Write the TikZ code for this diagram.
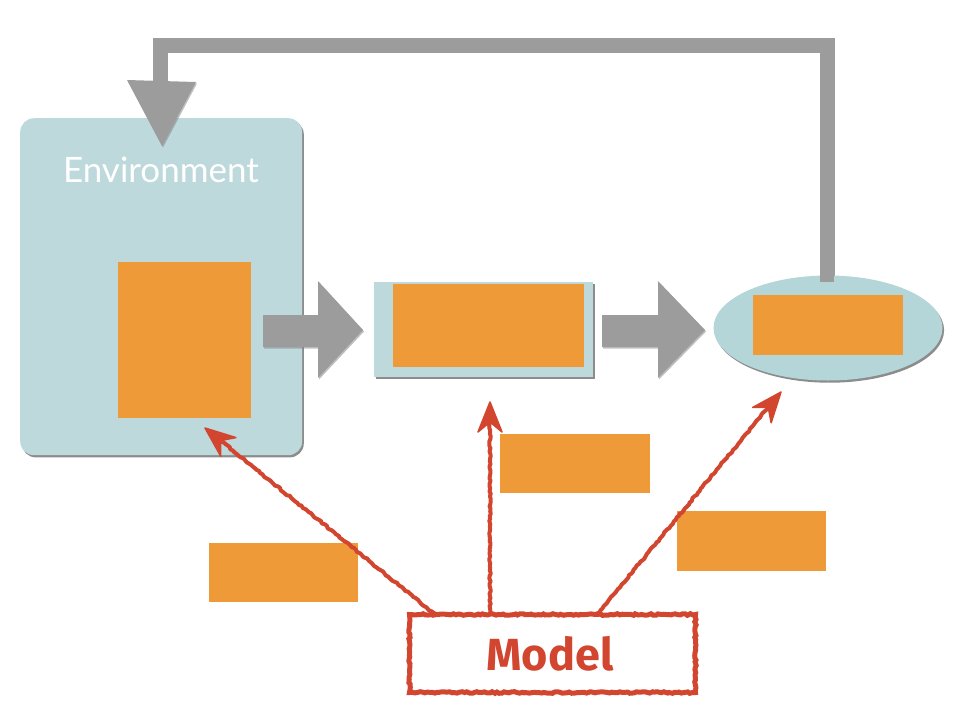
\documentclass[tikz,border=0pt]{standalone}
\usepackage{fontspec}
\setmainfont{Lato}
\newfontfamily\modelfont{Fira Sans}
\usetikzlibrary{calc,shadows,shapes.geometric,decorations.pathmorphing,arrows.meta}
\definecolor{envblue}{HTML}{BDD9DC}
\definecolor{ellblue}{HTML}{B5D6D8}
\definecolor{boxorange}{HTML}{EF9A38}
\definecolor{arrowgray}{HTML}{9C9C9C}
\definecolor{sketchred}{HTML}{D2452F}
\tikzset{
  softshadow/.style={drop shadow={shadow xshift=1.6pt, shadow yshift=-2.2pt, fill=black!60, opacity=0.75}},
  envbox/.style={fill=envblue, rounded corners=14pt, inner sep=0, anchor=north west, softshadow},
  procbox/.style={fill=envblue, inner sep=0, anchor=north west, softshadow},
  ellbox/.style={ellipse, fill=ellblue, inner sep=0, softshadow},
  orangebox/.style={fill=boxorange, inner sep=0, anchor=north west},
  grayarrow/.style={fill=arrowgray, drop shadow={shadow xshift=1pt, shadow yshift=-1.5pt, fill=black!50, opacity=0.5}},
  sketch/.style={decorate, decoration={random steps, segment length=2.5pt, amplitude=0.8pt}},
  redline/.style={draw=sketchred, line width=4pt, sketch, line join=round},
  redhead/.style={fill=sketchred, draw=sketchred, line width=1.5pt, line join=round},
  modelbox/.style={draw=sketchred, line width=5pt, sketch, inner sep=0, anchor=north west}
}
\pgfmathsetseed{7}
\begin{document}
\begin{tikzpicture}[x=1pt,y=-1pt]
\useasboundingbox (0,0) rectangle (962,716);

% environment
\node[envbox, minimum width=282, minimum height=337] (env) at (20,118) {};
\node[text=white, font=\fontsize{35}{35}\selectfont] (envlabel) at (161,170) {Environment};
\node[orangebox, minimum width=133, minimum height=156] (envo) at (118,262) {};

% feedback gray arrow
\draw[arrowgray, line width=15pt, line join=miter] (827,281) -- (827,45) -- (160,45) -- (160,82);
\path[grayarrow] (127,80) -- (196,82) -- (162,146) -- cycle;

% block arrows
\path[grayarrow] (263,315) -- (318,315) -- (318,281) -- (363,330) -- (318,378) -- (318,347) -- (263,347) -- cycle;
\path[grayarrow] (602,315) -- (658,315) -- (658,281) -- (705,330) -- (658,378) -- (658,347) -- (602,347) -- cycle;

% process box
\node[procbox, minimum width=219, minimum height=95] (proc) at (374,282) {};
\node[orangebox, minimum width=191, minimum height=83] (proco) at (393,284) {};

% ellipse
\node[ellbox, minimum width=229, minimum height=105] (ell) at (828,328) {};
\node[orangebox, minimum width=150, minimum height=60] (ello) at (753,295) {};
\fill[arrowgray] (820,282) rectangle (834,265);

% label boxes
\node[orangebox, minimum width=150, minimum height=59] (lab1) at (500,434) {};
\node[orangebox, minimum width=149, minimum height=59] (lab2) at (209,543) {};
\node[orangebox, minimum width=149, minimum height=60] (lab3) at (677,511) {};

% model
\node[modelbox, minimum width=286, minimum height=78] (model) at (407,612) {};
\node[text=sketchred, font=\modelfont\bfseries\fontsize{45}{45}\selectfont] (modeltext) at (550,654) {Model};

\coordinate (s1) at (437,616);
\coordinate (s2) at (490,616);
\coordinate (s3) at (596,616);
\coordinate (t1) at (205,428);
\coordinate (t2) at (490,402);
\coordinate (t3) at (781,392);
% shafts end a little before the tips
\draw[redline] (s1) -- ($(t1)!14pt!(s1)$);
\draw[redline] (s2) -- ($(t2)!14pt!(s2)$);
\draw[redline] (s3) -- ($(t3)!14pt!(s3)$);
% arrowheads
\foreach \s/\t in {s1/t1, s2/t2, s3/t3}{
  \fill[redhead] (\t) -- ($(\t)!30pt!(\s)!12pt!90:(\s)$) -- ($(\t)!20pt!(\s)$) -- ($(\t)!30pt!(\s)!12pt!-90:(\s)$) -- cycle;
}
\end{tikzpicture}
\end{document}
